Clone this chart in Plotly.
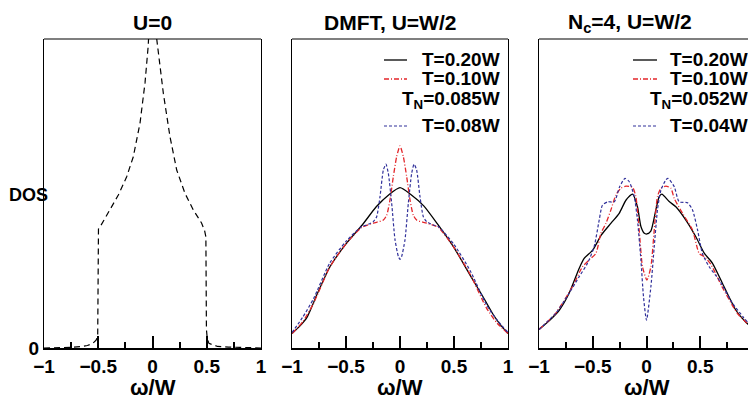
import plotly.graph_objects as go

# ---------------- data ----------------
# Panel 1: U=0
u0_w = [-1.0, -0.85, -0.75, -0.65, -0.6, -0.55, -0.52, -0.505, -0.498, -0.47, -0.392, -0.315,
        -0.238, -0.177, -0.115, -0.069, -0.039, -0.02, 0.0, 0.02, 0.039, 0.1, 0.161, 0.223,
        0.3, 0.376, 0.453, 0.48, 0.492, 0.497, 0.505, 0.52, 0.6, 0.7, 0.8, 1.0]
u0_dos = [0.0, 0.001, 0.002, 0.005, 0.008, 0.015, 0.025, 0.04, 0.385, 0.40, 0.447, 0.495,
          0.554, 0.619, 0.728, 0.858, 0.98, 1.1, 1.3, 1.1, 1.0, 0.824, 0.684, 0.576,
          0.50, 0.447, 0.404, 0.38, 0.36, 0.06, 0.03, 0.015, 0.005, 0.003, 0.002, 0.0]

# Panel 2: DMFT, U=W/2
d_w_black = [-1, -0.93, -0.86, -0.77, -0.65, -0.5, -0.35, -0.22, -0.1, 0, 0.1, 0.22, 0.35, 0.5, 0.65, 0.77, 0.86, 0.93, 1]
d_black = [0.047, 0.07, 0.10, 0.172, 0.262, 0.337, 0.398, 0.457, 0.497, 0.519, 0.497, 0.46, 0.40, 0.325, 0.235, 0.165, 0.11, 0.075, 0.047]

d_w_red = [-1, -0.9, -0.8, -0.65, -0.5, -0.355, -0.247, -0.154, -0.123, -0.093, -0.062, -0.031, 0,
           0.031, 0.062, 0.093, 0.123, 0.154, 0.247, 0.355, 0.5, 0.65, 0.8, 0.9, 1]
d_red = [0.047, 0.085, 0.145, 0.262, 0.337, 0.39, 0.404, 0.414, 0.43, 0.479, 0.554, 0.619, 0.654,
         0.619, 0.554, 0.479, 0.43, 0.414, 0.404, 0.39, 0.325, 0.238, 0.13, 0.08, 0.047]

d_w_blue = [-1, -0.9, -0.8, -0.65, -0.5, -0.355, -0.309, -0.247, -0.216, -0.185, -0.154, -0.13,
            -0.108, -0.077, -0.046, -0.015, 0, 0.015, 0.046, 0.077, 0.108, 0.13, 0.154, 0.185,
            0.216, 0.247, 0.309, 0.355, 0.5, 0.65, 0.8, 0.9, 1]
d_blue = [0.05, 0.1, 0.16, 0.275, 0.345, 0.393, 0.398, 0.409, 0.425, 0.49, 0.576, 0.595,
          0.565, 0.468, 0.35, 0.296, 0.287, 0.296, 0.35, 0.468, 0.565, 0.595, 0.576, 0.49,
          0.425, 0.409, 0.398, 0.393, 0.335, 0.25, 0.14, 0.09, 0.05]

# Panel 3: Nc=4, U=W/2
n_w_black = [-1, -0.9, -0.81, -0.72, -0.626, -0.58, -0.5, -0.42, -0.33, -0.254, -0.19, -0.13,
             -0.084, -0.052, -0.02, 0.004, 0.04, 0.087, 0.118, 0.143, 0.211, 0.273, 0.366,
             0.459, 0.537, 0.614, 0.707, 0.83, 0.92, 1]
n_black = [0.06, 0.09, 0.123, 0.177, 0.258, 0.29, 0.317, 0.366, 0.404, 0.436, 0.479, 0.498,
           0.457, 0.393, 0.371, 0.369, 0.378, 0.447, 0.49, 0.498, 0.474, 0.457, 0.414,
           0.36, 0.307, 0.274, 0.209, 0.123, 0.085, 0.06]

n_w_red = [-1, -0.85, -0.688, -0.595, -0.533, -0.471, -0.424, -0.378, -0.331, -0.285, -0.238,
           -0.192, -0.13, -0.099, -0.068, -0.037, 0.004, 0.041, 0.072, 0.102, 0.134, 0.18,
           0.227, 0.258, 0.335, 0.428, 0.49, 0.537, 0.6, 0.7, 0.85, 1]
n_red = [0.06, 0.11, 0.199, 0.263, 0.285, 0.306, 0.371, 0.403, 0.447, 0.495, 0.517,
         0.524, 0.52, 0.49, 0.382, 0.263, 0.22, 0.263, 0.382, 0.49, 0.517, 0.524,
         0.517, 0.484, 0.436, 0.382, 0.306, 0.296, 0.27, 0.2, 0.11, 0.06]

n_w_blue = [-1, -0.843, -0.72, -0.626, -0.549, -0.487, -0.44, -0.41, -0.36, -0.3, -0.25, -0.2,
            -0.16, -0.114, -0.084, -0.052, -0.028, 0, 0.041, 0.072, 0.102, 0.134, 0.18, 0.2,
            0.258, 0.304, 0.382, 0.428, 0.475, 0.52, 0.583, 0.676, 0.8, 0.9, 1]
n_blue = [0.06, 0.113, 0.177, 0.231, 0.274, 0.328, 0.414, 0.462, 0.473, 0.473, 0.522, 0.549,
          0.538, 0.49, 0.414, 0.285, 0.166, 0.09, 0.199, 0.328, 0.447, 0.511, 0.544, 0.549,
          0.522, 0.473, 0.47, 0.447, 0.382, 0.306, 0.263, 0.22, 0.145, 0.1, 0.06]

x_ticks = [-1, -0.5, 0, 0.5, 1]
x_tick_text = ["\u22121", "\u22120.5", "0", "0.5", "1"]
titles = ["U=0", "DMFT, U=W/2", "N<sub>c</sub>=4, U=W/2"]
legend2 = ["T=0.20W", "T=0.10W", "T<sub>N</sub>=0.085W", "T=0.08W"]
legend3 = ["T=0.20W", "T=0.10W", "T<sub>N</sub>=0.052W", "T=0.04W"]

# ---------------- style ----------------
FONT = "Liberation Sans, Arial, Helvetica, sans-serif"
BLACK = "#000000"
RED = "#e3262a"
BLUE = "#30309a"
DASH_BLACK = "6px,4px"
DASH_BLUE = "3px,2px"
DASH_RED = "5px,2px,1px,2px"

OFF = 8  # page body margin of the browser
W, H = 756 - OFF, 401 - OFF
L, R, T, B = 44 - OFF, 2, 39 - OFF, 53
pw = W - L - R
ph = H - T - B
panels_px = [(44, 261), (292, 508), (539, 754)]  # screen pixels
domains = [[(a - OFF - L) / pw, (b - OFF - L) / pw] for a, b in panels_px]


def px_x(x):
    return (x - OFF - L) / pw


def px_y(y):
    return (H - B - (y - OFF)) / ph


fig = go.Figure()
fig.add_trace(go.Scatter(x=u0_w, y=u0_dos, mode="lines", xaxis="x", yaxis="y",
                         line=dict(color=BLACK, width=1.2, dash=DASH_BLACK), showlegend=False))

for (xs, ys, col, dash, wd), ax in [
    ((d_w_black, d_black, BLACK, "solid", 1.3), 2),
    ((d_w_red, d_red, RED, DASH_RED, 1.3), 2),
    ((d_w_blue, d_blue, BLUE, DASH_BLUE, 1.2), 2),
    ((n_w_black, n_black, BLACK, "solid", 1.3), 3),
    ((n_w_red, n_red, RED, DASH_RED, 1.3), 3),
    ((n_w_blue, n_blue, BLUE, DASH_BLUE, 1.2), 3),
]:
    fig.add_trace(go.Scatter(x=xs, y=ys, mode="lines", xaxis=f"x{ax}", yaxis=f"y{ax}",
                             line=dict(color=col, width=wd, dash=dash, shape="spline", smoothing=0.6),
                             showlegend=False))

tickfont = dict(family=FONT, size=19, color="black", weight="bold")
layout = dict(width=W, height=H, margin=dict(l=L, r=R, t=T, b=B, autoexpand=False),
              paper_bgcolor="white", plot_bgcolor="white", showlegend=False)
for i in range(3):
    s = "" if i == 0 else str(i + 1)
    layout[f"xaxis{s}"] = dict(domain=domains[i], range=[-1, 1], anchor=f"y{s}", automargin=False,
                               showline=True, linecolor="black", linewidth=2, mirror=False,
                               tickvals=x_ticks, ticktext=x_tick_text, ticks="inside",
                               ticklen=12, tickwidth=1.5, tickcolor="black",
                               minor=dict(tick0=-1, dtick=0.25, ticks="inside", ticklen=6,
                                          tickwidth=1.5, tickcolor="black"),
                               showgrid=False, zeroline=False, tickfont=tickfont)
    layout[f"yaxis{s}"] = dict(domain=[0, 1], range=[0, 1], anchor=f"x{s}", automargin=False,
                               showline=True, linecolor="black", linewidth=1.2, mirror=True,
                               showgrid=False, zeroline=False, ticks="",
                               showticklabels=(i == 0), tickvals=[0], ticktext=["0"],
                               tickfont=tickfont)
fig.update_layout(**layout)

shapes = []
annotations = []
title_x = [152, 390, 630]
for i in range(3):
    a, b = panels_px[i]
    shapes.append(dict(type="line", xref="paper", yref="paper", x0=px_x(a), x1=px_x(b),
                       y0=1, y1=1, line=dict(color="black", width=1.2)))
    annotations.append(dict(text=titles[i], x=px_x(title_x[i]), y=px_y(23), xref="paper",
                            yref="paper", showarrow=False, xanchor="center", yanchor="middle",
                            font=dict(family=FONT, size=21, color="black", weight="bold")))
    annotations.append(dict(text="\u03c9/W", x=px_x((a + b) / 2), y=px_y(387), xref="paper",
                            yref="paper", showarrow=False, xanchor="center", yanchor="middle",
                            font=dict(family=FONT, size=22, color="black", weight="bold")))

annotations.append(dict(text="DOS", x=px_x(28), y=px_y(195), xref="paper", yref="paper",
                        showarrow=False, xanchor="center", yanchor="middle",
                        font=dict(family=FONT, size=18, color="black", weight="bold")))

leg_y = [59, 78, 100, 125]
leg_styles = [(BLACK, "solid", 1.3), (RED, DASH_RED, 1.3), None, (BLUE, DASH_BLUE, 1.2)]
for labels, text_right, (s0, s1) in [(legend2, 502, (384, 407)), (legend3, 750, (633, 657))]:
    for j, lab in enumerate(labels):
        annotations.append(dict(text=lab, x=px_x(text_right), y=px_y(leg_y[j]), xref="paper",
                                yref="paper", showarrow=False, xanchor="right", yanchor="middle",
                                font=dict(family=FONT, size=19, color="black", weight="bold")))
        st = leg_styles[j]
        if st is not None:
            shapes.append(dict(type="line", xref="paper", yref="paper", x0=px_x(s0), x1=px_x(s1),
                               y0=px_y(leg_y[j] + 1), y1=px_y(leg_y[j] + 1),
                               line=dict(color=st[0], width=st[2], dash=st[1])))

fig.update_layout(shapes=shapes, annotations=annotations)
fig.write_html("out.html")
